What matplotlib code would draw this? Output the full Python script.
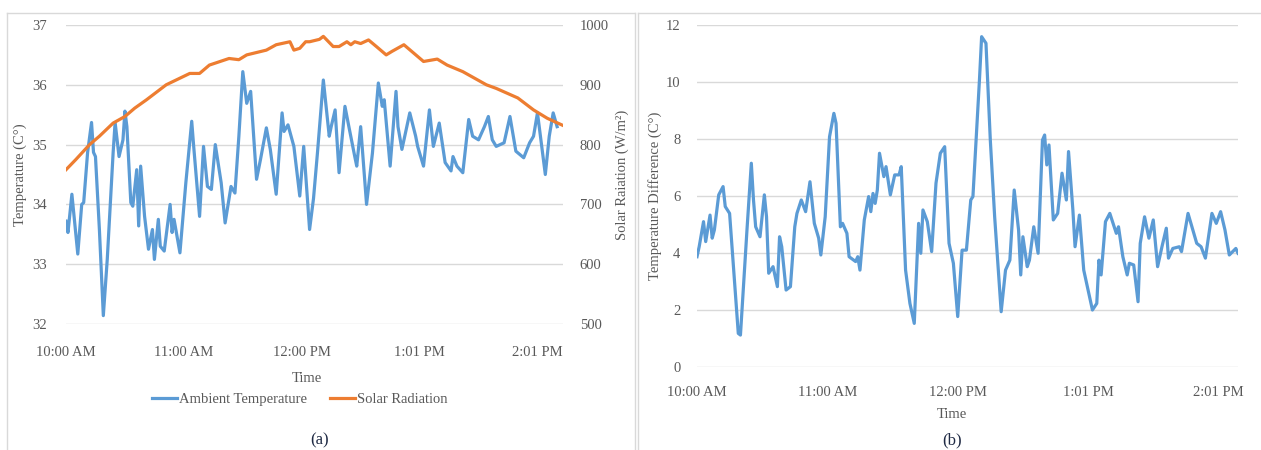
import numpy as np
import matplotlib.pyplot as plt
from matplotlib.lines import Line2D

plt.rcParams['font.family'] = ['Liberation Serif', 'DejaVu Serif']
plt.rcParams['font.size'] = 10.5

# readings (minute index, value) taken from the figure
ambient = [(0, 33.72), (1, 33.53), (3, 34.17), (6, 33.17), (8, 34.0), (9, 34.03), (11, 34.87),
           (13, 35.37), (14, 34.87), (15, 34.8), (17, 33.58), (19, 32.14), (21, 33.08), (24, 34.87),
           (25, 35.37), (27, 34.8), (29, 35.08), (30, 35.56), (31, 35.3), (33, 34.03), (34, 33.97),
           (36, 34.58), (37, 33.64), (38, 34.64), (40, 33.8), (42, 33.25), (44, 33.58), (45, 33.08),
           (47, 33.75), (48, 33.3), (50, 33.22), (53, 34.0), (54, 33.53), (55, 33.75), (58, 33.19),
           (61, 34.36), (64, 35.39), (65, 34.97), (68, 33.8), (70, 34.97), (72, 34.3), (74, 34.25),
           (76, 35.0), (79, 34.36), (81, 33.69), (84, 34.3), (86, 34.19), (88, 35.14), (90, 36.22),
           (92, 35.69), (94, 35.89), (97, 34.42), (99, 34.75), (102, 35.28), (104, 34.92), (107, 34.17),
           (110, 35.53), (111, 35.22), (113, 35.33), (116, 34.97), (119, 34.14), (121, 34.97),
           (124, 33.58), (126, 34.1), (128, 34.86), (131, 36.08), (134, 35.14), (135, 35.3), (137, 35.58),
           (139, 34.53), (142, 35.64), (144, 35.3), (147, 34.8), (148, 34.64), (150, 35.3), (153, 34.0),
           (156, 34.86), (159, 36.03), (161, 35.64), (162, 35.75), (165, 34.64), (168, 35.89),
           (169, 35.3), (171, 34.92), (175, 35.53), (178, 35.14), (179, 34.97), (182, 34.64),
           (185, 35.58), (187, 34.97), (190, 35.36), (193, 34.7), (196, 34.56), (197, 34.8), (199, 34.64),
           (202, 34.53), (205, 35.42), (207, 35.14), (210, 35.08), (213, 35.3), (215, 35.47),
           (217, 35.08), (219, 34.97), (223, 35.03), (226, 35.47), (229, 34.89), (233, 34.78),
           (236, 35.03), (238, 35.14), (240, 35.53), (244, 34.5), (246, 35.14), (248, 35.53), (250, 35.3)]

solar = [(0, 758), (5, 775), (12, 800), (17, 814), (24, 836), (30, 847), (35, 861), (41, 875),
         (51, 900), (63, 919), (68, 919), (73, 933), (83, 944), (88, 942), (92, 950), (102, 958),
         (107, 967), (114, 972), (116, 958), (119, 961), (122, 972), (124, 972), (129, 976), (131, 981),
         (136, 964), (139, 964), (143, 972), (145, 967), (147, 972), (150, 969), (154, 975), (158, 964),
         (163, 950), (166, 956), (172, 967), (177, 953), (182, 939), (189, 943), (194, 933), (202, 922),
         (214, 900), (219, 894), (230, 878), (238, 858), (245, 844), (253, 832)]

diff = [(0, 3.87), (1, 4.22), (3, 5.1), (4, 4.4), (6, 5.33), (7, 4.52), (8, 4.81), (10, 6.04), (12, 6.33),
        (13, 5.63), (15, 5.39), (16, 4.34), (19, 1.18), (20, 1.12), (23, 4.81), (25, 7.15), (26, 5.86),
        (27, 4.92), (29, 4.57), (31, 6.04), (32, 5.27), (33, 3.29), (35, 3.52), (37, 2.82), (38, 4.57),
        (39, 4.22), (41, 2.7), (43, 2.82), (45, 4.92), (46, 5.39), (48, 5.86), (50, 5.45), (52, 6.5),
        (54, 5.04), (56, 4.52), (57, 3.93), (59, 5.27), (61, 8.08), (63, 8.9), (64, 8.55), (66, 4.92),
        (67, 5.04), (69, 4.69), (70, 3.87), (73, 3.7), (74, 3.87), (75, 3.4), (77, 5.16), (79, 5.98),
        (80, 5.45), (81, 6.09), (82, 5.74), (83, 6.21), (84, 7.5), (86, 6.68), (87, 7.03), (89, 6.04),
        (91, 6.74), (93, 6.74), (94, 7.03), (96, 3.4), (98, 2.23), (100, 1.53), (102, 5.04), (103, 3.99),
        (104, 5.51), (106, 5.1), (108, 4.05), (110, 6.45), (112, 7.5), (114, 7.73), (116, 4.34),
        (118, 3.64), (120, 1.77), (122, 4.1), (124, 4.1), (126, 5.86), (127, 5.98), (130, 10.07),
        (131, 11.59), (133, 11.36), (135, 7.96), (137, 5.27), (140, 1.94), (142, 3.4), (144, 3.75),
        (146, 6.21), (148, 4.81), (149, 3.23), (150, 4.57), (152, 3.52), (153, 3.75), (155, 4.92),
        (157, 3.99), (159, 7.96), (160, 8.14), (161, 7.09), (162, 7.79), (164, 5.16), (166, 5.39),
        (168, 6.8), (170, 5.86), (171, 7.56), (173, 5.51), (174, 4.22), (176, 5.33), (178, 3.4),
        (180, 2.7), (182, 2.0), (184, 2.23), (185, 3.75), (186, 3.23), (188, 5.1), (190, 5.39),
        (193, 4.69), (194, 4.92), (196, 3.87), (198, 3.23), (199, 3.64), (201, 3.58), (203, 2.29),
        (204, 4.34), (206, 5.27), (208, 4.52), (210, 5.16), (212, 3.52), (214, 4.22), (216, 4.87),
        (217, 3.82), (219, 4.16), (222, 4.22), (223, 4.05), (226, 5.39), (228, 4.87), (230, 4.34),
        (232, 4.22), (234, 3.82), (237, 5.39), (239, 5.04), (241, 5.45), (243, 4.81), (245, 3.93),
        (248, 4.16), (249, 3.99)]

tick_pos = [0, 60, 120, 180, 240]
tick_labels = ['10:00 AM', '11:00 AM', '12:00 PM', '1:01 PM', '2:01 PM']

BLUE = '#5B9BD5'
ORANGE = '#ED7D31'
GRID = '#D9D9D9'
TXT = '#595959'

fig = plt.figure(figsize=(12.61, 4.5), dpi=100)


def style(ax):
    for s in ax.spines.values():
        s.set_visible(False)
    ax.tick_params(length=0, colors=TXT, labelsize=10.5)
    ax.grid(axis='y', color=GRID, lw=1)
    ax.set_axisbelow(True)


# (a)
ax1 = fig.add_axes([66/1261, 1-324/450, 497/1261, 299/450])
ax2 = ax1.twinx()
style(ax1)
style(ax2)
ax2.grid(False)

t, v = zip(*ambient)
l1, = ax1.plot(t, v, color=BLUE, lw=2.3, label='Ambient Temperature', zorder=2)
t, v = zip(*solar)
l2, = ax2.plot(t, v, color=ORANGE, lw=2.3, label='Solar Radiation', zorder=3)

ax1.set_xlim(0, solar[-1][0])
ax1.set_ylim(32, 37)
ax1.set_yticks(range(32, 38))
ax2.set_ylim(500, 1000)
ax2.set_yticks(range(500, 1001, 100))
ax1.set_xticks(tick_pos)
ax1.set_xticklabels(tick_labels)
ax1.tick_params(axis='x', pad=16)
ax1.tick_params(axis='y', pad=14)
ax2.tick_params(axis='y', pad=12)
ax1.set_ylabel('Temperature (C°)', color=TXT, fontsize=10.5, va='center')
ax1.yaxis.set_label_coords((20-66)/497, 0.5)
ax2.set_ylabel('Solar Raiation (W/m²)', color=TXT, fontsize=10.5, va='center')
ax2.yaxis.set_label_coords((622-66)/497, 0.5)
ax1.set_xlabel('Time', color=TXT, fontsize=10.5, va='center')
ax1.xaxis.set_label_coords((307-66)/497, (324-378)/299)

fig.legend(handles=[l1, l2], loc='center', bbox_to_anchor=(300/1261, 1-399/450), ncol=2,
           frameon=False, handlelength=1.7, handletextpad=0.15, columnspacing=1.6,
           fontsize=10.5, labelcolor=TXT)

# (b)
ax3 = fig.add_axes([697/1261, 1-367/450, 541/1261, 342/450])
style(ax3)
t, v = zip(*diff)
ax3.plot(t, v, color=BLUE, lw=2.3)
ax3.set_xlim(0, diff[-1][0])
ax3.set_ylim(0, 12)
ax3.set_yticks(range(0, 13, 2))
ax3.set_xticks(tick_pos)
ax3.set_xticklabels(tick_labels)
ax3.tick_params(axis='x', pad=14)
ax3.tick_params(axis='y', pad=12)
ax3.set_ylabel('Temperature Difference (C°)', color=TXT, fontsize=10.5, va='center')
ax3.yaxis.set_label_coords((655-697)/541, 0.5)
ax3.set_xlabel('Time', color=TXT, fontsize=10.5, va='center')
ax3.xaxis.set_label_coords((952-697)/541, (367-415)/342)

fig.text(320/1261, 1-440/450, '(a)', ha='center', va='center', fontsize=12, color='#1F2A44')
fig.text(952/1261, 1-440/450, '(b)', ha='center', va='center', fontsize=12, color='#1F2A44')

# chart area borders
W, H = 1261, 450
for (x0, y0, x1, y1) in [(7, 13, 7, 450), (7, 13, 635, 13), (635, 13, 635, 450),
                         (638, 13, 1261, 13), (638, 13, 638, 450)]:
    fig.add_artist(Line2D([x0/W, x1/W], [1-y0/H, 1-y1/H], color=GRID, lw=1))

fig.savefig('out.png', dpi=100)
